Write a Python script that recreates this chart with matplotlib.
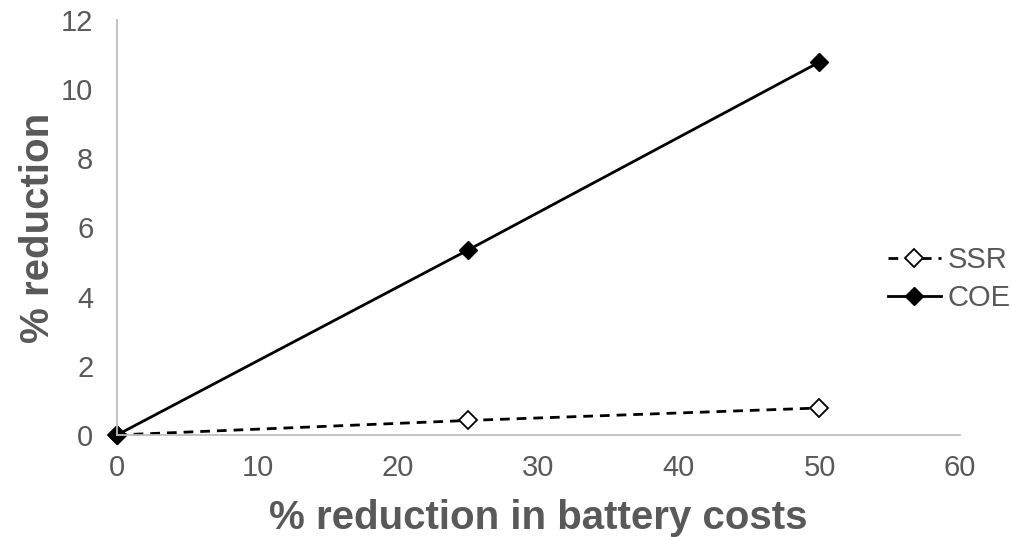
import matplotlib.pyplot as plt

plt.rcParams['font.family'] = ['Liberation Sans', 'DejaVu Sans']

# data
battery_cut = [0, 25, 50]
ssr = [0, 0.42, 0.78]
coe = [0, 5.35, 10.78]

grey = '#595959'

fig = plt.figure(figsize=(10.12, 5.37), dpi=100)
ax = fig.add_axes([0.1156, 0.19, 0.833, 0.773])

ax.plot(battery_cut, ssr, color='black', lw=2, ls=(0, (3.5, 2.5)), marker='D',
        ms=9.5, mfc='white', mec='black', mew=1.3, label='SSR', clip_on=False)
ax.plot(battery_cut, coe, color='black', lw=2, marker='D',
        ms=9.5, mfc='black', mec='black', label='COE', clip_on=False)

ax.set_xlim(0, 60)
ax.set_ylim(0, 12)
ax.set_xticks(range(0, 61, 10))
ax.set_yticks(range(0, 13, 2))
ax.tick_params(length=0, labelsize=21, labelcolor=grey)
ax.tick_params(axis='y', pad=17)
ax.tick_params(axis='x', pad=14)

for s in ['top', 'right']:
    ax.spines[s].set_visible(False)
for s in ['left', 'bottom']:
    ax.spines[s].set_color('#bfbfbf')
    ax.spines[s].set_linewidth(1.3)

ax.set_xlabel('% reduction in battery costs', fontsize=29, fontweight='bold', color=grey, labelpad=12)
ax.set_ylabel('% reduction', fontsize=29, fontweight='bold', color=grey, labelpad=3)

leg = fig.legend(loc='center left', bbox_to_anchor=(0.8775, 0.4804), frameon=False,
                 fontsize=21, handlelength=1.8, handletextpad=0.25, labelspacing=0.35,
                 borderpad=0, borderaxespad=0)
for t in leg.get_texts():
    t.set_color(grey)

fig.savefig('out.png', dpi=100)
